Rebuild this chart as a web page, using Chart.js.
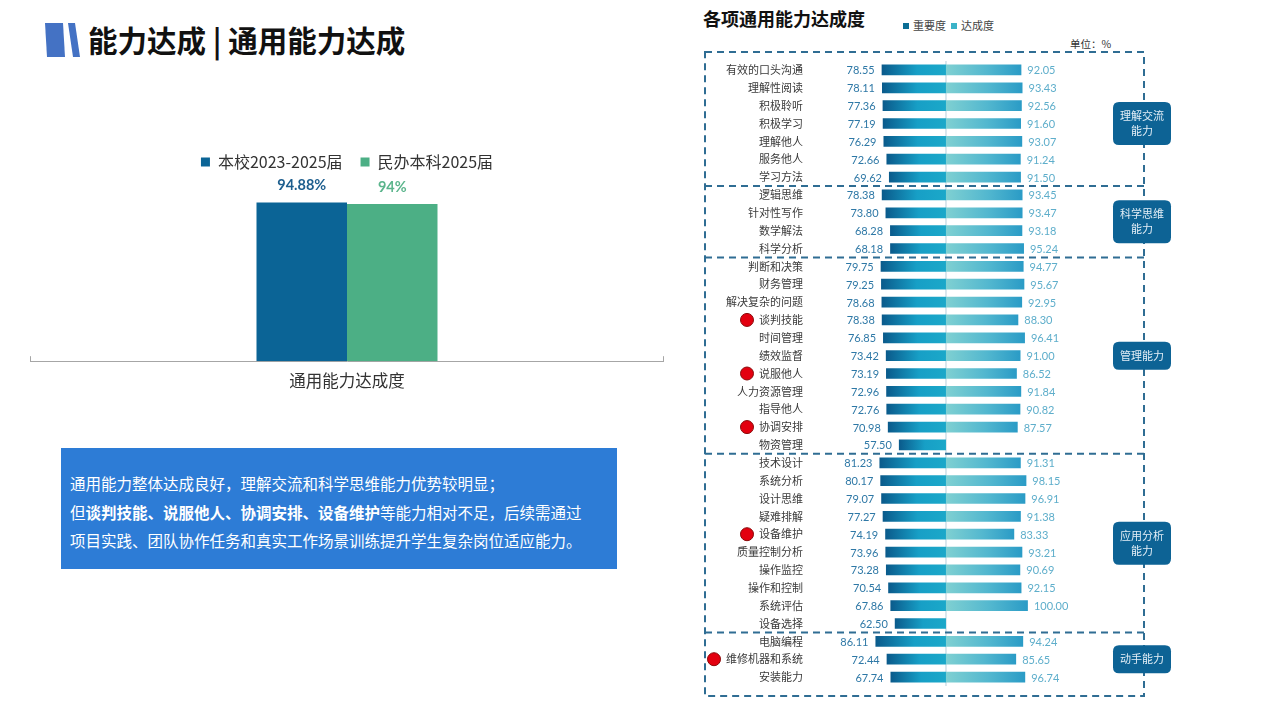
<!DOCTYPE html>
<html lang="zh">
<head>
<meta charset="utf-8">
<title>能力达成 | 通用能力达成</title>
<script src="https://cdn.jsdelivr.net/npm/chart.js@4.4.1/dist/chart.umd.min.js"></script>
<style>
  html, body { margin: 0; padding: 0; background: #fff; }
  body { width: 1267px; height: 713px; position: relative; overflow: hidden;
         font-family: "Noto Sans CJK SC", "Noto Sans", sans-serif; }
  .abs { position: absolute; }
  #titulo { left: 88px; top: 23px; font-size: 29.5px; font-weight: 700; line-height: 32px; color: #111; white-space: nowrap; }
  #cajaGeneral { left: 30px; top: 136px; width: 634px; height: 265px; }
  #cajaHabilidades { left: 700px; top: 0; width: 480px; height: 713px; }
  #nota { left: 61px; top: 448px; width: 556px; height: 121px; background: #2d7cd6; color: #fff;
          font-size: 15.5px; line-height: 28.5px; padding: 21px 0 0 9px; box-sizing: border-box; white-space: nowrap; overflow: hidden; }
  #nota b { font-weight: 700; }
  #tituloDer { left: 703px; top: 6px; font-size: 18px; font-weight: 700; line-height: 24px; color: #111; white-space: nowrap; }
  #leyendaDer { left: 903px; top: 18px; font-size: 11px; line-height: 15px; color: #444; white-space: nowrap; }
  #leyendaDer i { display: inline-block; width: 6px; height: 6px; margin-right: 4px; vertical-align: 1px; }
  #unidad { left: 1070px; top: 37px; font-size: 10.5px; line-height: 14px; color: #333; }
</style>
</head>
<body>

<svg class="abs" style="left:0;top:0" width="100" height="70">
  <polygon points="45,23 63,23 65,57 47,57" fill="#4472c4"/>
  <polygon points="68,23 75,23 80,57 73,57" fill="#4472c4"/>
</svg>
<div id="titulo" class="abs">能力达成 | 通用能力达成</div>

<div id="cajaGeneral" class="abs"><canvas id="graficoGeneral"></canvas></div>

<div id="nota" class="abs">通用能力整体达成良好，理解交流和科学思维能力优势较明显；<br>但<b>谈判技能、说服他人、协调安排、设备维护</b>等能力相对不足，后续需通过<br>项目实践、团队协作任务和真实工作场景训练提升学生复杂岗位适应能力。</div>

<div id="tituloDer" class="abs">各项通用能力达成度</div>
<div id="leyendaDer" class="abs"><i style="background:#0b6e95"></i>重要度&nbsp;&nbsp;<i style="background:#3bb3c8"></i>达成度</div>
<div id="unidad" class="abs">单位：%</div>

<div id="cajaHabilidades" class="abs"><canvas id="graficoHabilidades"></canvas></div>

<script>
const fuente = '"Noto Sans CJK SC", "Noto Sans", sans-serif';
const fuenteNum = 'Lato, "Liberation Sans", sans-serif';

// grafico izquierdo
const categoriasGeneral = ['通用能力达成度'];
const seriesGeneral = ['本校2023-2025届', '民办本科2025届'];
const valoresGeneral = [94.88, 94];
const etiquetasGeneral = ['94.88%', '94%'];

// grafico derecho
const habilidades = [
  '有效的口头沟通', '理解性阅读', '积极聆听', '积极学习', '理解他人', '服务他人', '学习方法',
  '逻辑思维', '针对性写作', '数学解法', '科学分析',
  '判断和决策', '财务管理', '解决复杂的问题', '谈判技能', '时间管理', '绩效监督', '说服他人',
  '人力资源管理', '指导他人', '协调安排', '物资管理',
  '技术设计', '系统分析', '设计思维', '疑难排解', '设备维护', '质量控制分析', '操作监控',
  '操作和控制', '系统评估', '设备选择',
  '电脑编程', '维修机器和系统', '安装能力'
];
const importancia = [
  78.55, 78.11, 77.36, 77.19, 76.29, 72.66, 69.62,
  78.38, 73.80, 68.28, 68.18,
  79.75, 79.25, 78.68, 78.38, 76.85, 73.42, 73.19, 72.96, 72.76, 70.98, 57.50,
  81.23, 80.17, 79.07, 77.27, 74.19, 73.96, 73.28, 70.54, 67.86, 62.50,
  86.11, 72.44, 67.74
];
const logro = [
  92.05, 93.43, 92.56, 91.60, 93.07, 91.24, 91.50,
  93.45, 93.47, 93.18, 95.24,
  94.77, 95.67, 92.95, 88.30, 96.41, 91.00, 86.52, 91.84, 90.82, 87.57, null,
  91.31, 98.15, 96.91, 91.38, 83.33, 93.21, 90.69, 92.15, 100.00, null,
  94.24, 85.65, 96.74
];
const grupos = [['理解交流', '能力'], ['科学思维', '能力'], ['管理能力'], ['应用分析', '能力'], ['动手能力']];
const gruposInicio = [0, 7, 11, 22, 32];
const debiles = ['谈判技能', '说服他人', '协调安排', '设备维护', '维修机器和系统'];

const etiquetasBarras = {
  id: 'etiquetasBarras',
  afterDatasetsDraw(chart) {
    const { ctx, chartArea } = chart;
    const colores = ['#1d5e8e', '#5bb58c'];
    ctx.save();
    ctx.font = 'bold 14.5px ' + fuenteNum;
    ctx.textAlign = 'center';
    ctx.textBaseline = 'middle';
    chart.data.datasets.forEach((ds, i) => {
      const bar = chart.getDatasetMeta(i).data[0];
      ctx.fillStyle = colores[i];
      ctx.fillText(etiquetasGeneral[i], bar.x, bar.y - 17);
    });
    // marcas en los extremos del eje
    ctx.strokeStyle = '#a6a6a6';
    ctx.lineWidth = 1;
    [chartArea.left + 0.5, chartArea.right - 0.5].forEach(px => {
      ctx.beginPath();
      ctx.moveTo(px, chartArea.bottom);
      ctx.lineTo(px, chartArea.bottom - 5);
      ctx.stroke();
    });
    ctx.restore();
  }
};

new Chart(document.getElementById('graficoGeneral'), {
  type: 'bar',
  data: {
    labels: categoriasGeneral,
    datasets: [
      { label: seriesGeneral[0], data: [valoresGeneral[0]], backgroundColor: '#0b6496', barPercentage: 1, categoryPercentage: 0.2855 },
      { label: seriesGeneral[1], data: [valoresGeneral[1]], backgroundColor: '#4caf85', barPercentage: 1, categoryPercentage: 0.2855 }
    ]
  },
  options: {
    responsive: true,
    maintainAspectRatio: false,
    animation: false,
    layout: { padding: 0 },
    plugins: {
      legend: {
        position: 'top',
        labels: { font: { family: fuente, size: 16 }, color: '#333', boxWidth: 9, boxHeight: 9, padding: 18 }
      },
      tooltip: { enabled: false }
    },
    scales: {
      x: {
        grid: { display: true, drawOnChartArea: false, drawTicks: false },
        border: { color: '#a6a6a6', width: 1 },
        ticks: { font: { family: fuente, size: 16.5 }, color: '#333', padding: 10 }
      },
      y: { display: false, min: 0, max: 108.4 }
    }
  },
  plugins: [etiquetasBarras]
});

function rectRedondo(ctx, x, y, w, h, r) {
  ctx.beginPath();
  ctx.moveTo(x + r, y);
  ctx.lineTo(x + w - r, y);
  ctx.quadraticCurveTo(x + w, y, x + w, y + r);
  ctx.lineTo(x + w, y + h - r);
  ctx.quadraticCurveTo(x + w, y + h, x + w - r, y + h);
  ctx.lineTo(x + r, y + h);
  ctx.quadraticCurveTo(x, y + h, x, y + h - r);
  ctx.lineTo(x, y + r);
  ctx.quadraticCurveTo(x, y, x + r, y);
  ctx.closePath();
}

function degradado(ctx, colores) {
  const chart = ctx.chart;
  const x = chart.scales.x;
  if (!chart.chartArea || !x || ctx.raw == null) return colores[1];
  const x0 = x.getPixelForValue(0);
  const x1 = x.getPixelForValue(ctx.raw);
  const g = chart.ctx.createLinearGradient(Math.min(x0, x1), 0, Math.max(x0, x1), 0);
  g.addColorStop(0, colores[0]);
  g.addColorStop(0.55, colores[1]);
  g.addColorStop(1, colores[2]);
  return g;
}

const dibujoHabilidades = {
  id: 'dibujoHabilidades',
  beforeDatasetsDraw(chart) {
    const { ctx, chartArea, scales: { x } } = chart;
    const x0 = x.getPixelForValue(0);
    ctx.save();
    ctx.strokeStyle = '#cfdfe8';
    ctx.lineWidth = 1.5;
    ctx.beginPath();
    ctx.moveTo(x0, chartArea.top);
    ctx.lineTo(x0, chartArea.bottom);
    ctx.stroke();
    ctx.restore();
  },
  afterDatasetsDraw(chart) {
    const { ctx, chartArea, scales: { y } } = chart;
    const izq = chart.getDatasetMeta(0).data;
    const der = chart.getDatasetMeta(1).data;
    const xTexto = chartArea.left + 97;
    ctx.save();
    ctx.textBaseline = 'middle';

    habilidades.forEach((nombre, i) => {
      const py = y.getPixelForValue(i);
      ctx.font = '11px ' + fuente;
      ctx.fillStyle = '#3a3a3a';
      ctx.textAlign = 'right';
      ctx.fillText(nombre, xTexto, py);
      if (debiles.includes(nombre)) {
        const ancho = ctx.measureText(nombre).width;
        ctx.beginPath();
        ctx.arc(xTexto - ancho - 12, py, 6.5, 0, Math.PI * 2);
        ctx.fillStyle = '#e3000f';
        ctx.fill();
        ctx.strokeStyle = '#8a0a0a';
        ctx.lineWidth = 1;
        ctx.stroke();
      }
      ctx.font = '11px ' + fuenteNum;
      ctx.fillStyle = '#2e78a6';
      ctx.textAlign = 'right';
      ctx.fillText(importancia[i].toFixed(2), izq[i].x - 7, py + 1);
      if (logro[i] != null) {
        ctx.fillStyle = '#5eaecb';
        ctx.textAlign = 'left';
        ctx.fillText(logro[i].toFixed(2), der[i].x + 6, py + 1);
      }
    });

    // recuadros punteados por grupo
    const paso = y.getPixelForValue(1) - y.getPixelForValue(0);
    const arriba = y.getPixelForValue(0) - 18;
    const abajo = y.getPixelForValue(habilidades.length - 1) + 19;
    const xl = chartArea.left - 1;
    const xr = chartArea.right - 1;
    ctx.strokeStyle = '#2f6d93';
    ctx.lineWidth = 2;
    ctx.setLineDash([7, 5]);
    ctx.beginPath();
    ctx.rect(xl, arriba, xr - xl, abajo - arriba);
    gruposInicio.slice(1).forEach(ini => {
      const py = y.getPixelForValue(ini) - paso / 2;
      ctx.moveTo(xl, py);
      ctx.lineTo(xr, py);
    });
    ctx.stroke();
    ctx.setLineDash([]);

    // etiquetas de grupo
    ctx.font = '11px ' + fuente;
    ctx.textAlign = 'center';
    grupos.forEach((lineas, g) => {
      const ini = gruposInicio[g];
      const fin = (gruposInicio[g + 1] || habilidades.length) - 1;
      const cy = (y.getPixelForValue(ini) + y.getPixelForValue(fin)) / 2;
      const h = lineas.length * 15 + 13;
      const cx = chartArea.right - 3;
      rectRedondo(ctx, cx - 29, cy - h / 2, 58, h, 6);
      ctx.fillStyle = '#0d6395';
      ctx.fill();
      ctx.fillStyle = '#e3eef6';
      lineas.forEach((t, k) => {
        ctx.fillText(t, cx, cy + (k - (lineas.length - 1) / 2) * 15);
      });
    });
    ctx.restore();
  }
};

new Chart(document.getElementById('graficoHabilidades'), {
  type: 'bar',
  data: {
    labels: habilidades,
    datasets: [
      {
        label: '重要度',
        data: importancia.map(v => -v),
        backgroundColor: c => degradado(c, ['#0a5a8b', '#179fc6', '#1ba8c9']),
        barPercentage: 0.6,
        categoryPercentage: 1
      },
      {
        label: '达成度',
        data: logro,
        backgroundColor: c => degradado(c, ['#7fd0d2', '#52b7cf', '#2a9bc6']),
        barPercentage: 0.6,
        categoryPercentage: 1
      }
    ]
  },
  options: {
    indexAxis: 'y',
    responsive: true,
    maintainAspectRatio: false,
    animation: false,
    layout: { padding: { left: 6, right: 35, top: 61, bottom: 27 } },
    plugins: { legend: { display: false }, tooltip: { enabled: false } },
    scales: {
      x: { display: false, stacked: true, min: -293, max: 243 },
      y: { display: false, stacked: true }
    }
  },
  plugins: [dibujoHabilidades]
});
</script>
</body>
</html>
